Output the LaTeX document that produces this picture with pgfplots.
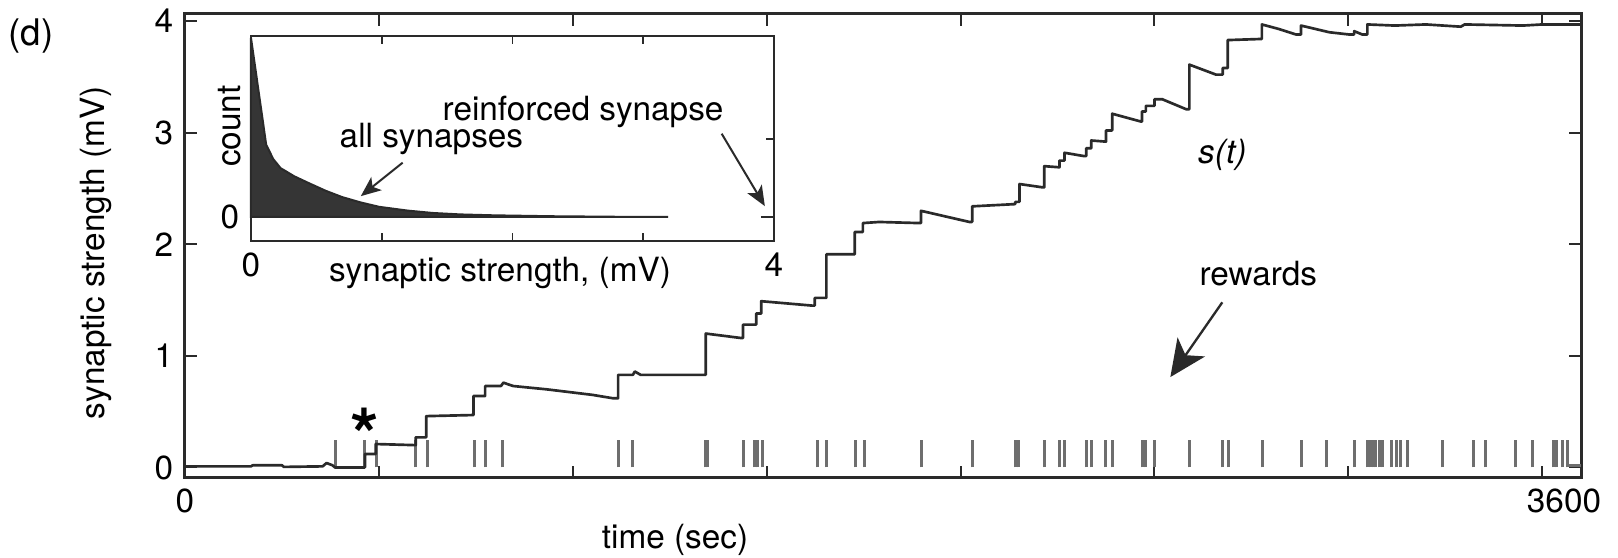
\documentclass[border=0pt]{standalone}
\usepackage{fontspec}
\setmainfont{TeX Gyre Heros}
\usepackage{pgfplots}
\pgfplotsset{compat=1.18}
\usetikzlibrary{arrows.meta}
\definecolor{ink}{HTML}{2A2A2A}
\definecolor{tickgray}{HTML}{6E6E6E}
\begin{document}
\begin{tikzpicture}[font=\fontsize{10}{12}\selectfont]
\useasboundingbox (0,0) rectangle (485.4pt,-167.1pt);
\node[anchor=west,inner sep=0pt] at (2.4pt,-10.8pt) {\fontsize{11}{13}\selectfont (d)};
% ---------------- main axis ----------------
\begin{axis}[
  at={(55.5pt,-143.25pt)}, anchor=south west,
  scale only axis, width=418.8pt, height=139.2pt,
  xmin=0, xmax=3600, ymin=-0.09, ymax=4.068,
  axis line style={ink, line width=0.9pt},
  tick style={ink, line width=0.6pt},
  tick align=inside, major tick length=3.6pt,
  xtick={0,500,1000,1500,2000,2500,3000,3500},
  xticklabels={0,,,,,,,},
  extra x ticks={3600}, extra x tick labels={\makebox[0pt]{\hspace*{-10.2pt}3600}},
  extra x tick style={major tick length=0pt},
  ytick={0,1,2,3,4},
  /pgf/number format/assume math mode=true,
  ticklabel style={font=\fontsize{10}{12}\selectfont},
  xlabel={time (sec)},
  ylabel={synaptic strength (mV)},
  every axis x label/.style={at={(axis description cs:0.351,-0.1347)}, anchor=center},
  every axis y label/.style={at={(axis description cs:-0.0638,0.484)}, rotate=90, anchor=center},
  clip=false,
]
% reward times
\addplot[ycomb, tickgray, line width=0.9pt, mark=none] coordinates {
(387,0.25) (464,0.25) (494,0.25) (595,0.25) (625,0.25) (746,0.25) (776,0.25) (819,0.25)
(1119,0.25) (1155,0.25) (1341,0.25) (1347,0.25) (1439,0.25) (1468,0.25) (1476,0.25) (1490,0.25)
(1630,0.25) (1654,0.25) (1728,0.25) (1751,0.25) (1898,0.25) (2030,0.25) (2142,0.25) (2150,0.25)
(2216,0.25) (2255,0.25) (2268,0.25) (2324,0.25) (2337,0.25) (2375,0.25) (2391,0.25)
(2470,0.25) (2478,0.25) (2500,0.25) (2590,0.25) (2676,0.25) (2690,0.25) (2779,0.25)
(2878,0.25) (2944,0.25) (3015,0.25) (3049,0.25) (3058,0.25) (3064,0.25) (3071,0.25) (3080,0.25)
(3088,0.25) (3111,0.25) (3125,0.25) (3134,0.25) (3153,0.25) (3243,0.25) (3324,0.25) (3354,0.25)
(3432,0.25) (3475,0.25) (3529,0.25) (3537,0.25) (3552,0.25) (3565,0.25)
};
\addplot[tickgray, line width=0.9pt, mark=none] coordinates {(3565,0.02) (3600,0.02)};
% synaptic strength s(t)
\addplot[ink, line width=0.8pt, mark=none, line join=round] coordinates {
(0,0.01) (170,0.01) (175,0.02) (250,0.02) (255,0.005) (355,0.01) (365,0.04) (380,0.02) (387,0.0)
(464,0.0) (464,0.12) (492,0.12) (492,0.21) (595,0.20) (595,0.27) (622,0.27) (622,0.46)
(744,0.47) (744,0.64) (774,0.64) (774,0.73) (815,0.73) (821,0.76) (846,0.73) (933,0.70)
(1052,0.65) (1104,0.62) (1117,0.62) (1117,0.83) (1155,0.83) (1160,0.86) (1175,0.83)
(1343,0.83) (1343,1.20) (1434,1.16) (1439,1.16) (1439,1.28) (1473,1.28) (1473,1.38)
(1486,1.38) (1486,1.49) (1619,1.45) (1624,1.45) (1624,1.52) (1654,1.52) (1654,1.91)
(1727,1.91) (1727,2.11) (1748,2.11) (1748,2.19) (1790,2.20) (1894,2.19) (1898,2.19)
(1898,2.30) (2023,2.20) (2030,2.20) (2030,2.34) (2141,2.36) (2141,2.38) (2152,2.38)
(2152,2.54) (2212,2.51) (2216,2.51) (2216,2.70) (2255,2.69) (2255,2.75) (2268,2.75)
(2268,2.82) (2319,2.79) (2324,2.79) (2324,2.86) (2337,2.86) (2337,2.93) (2375,2.92)
(2375,3.02) (2391,3.02) (2391,3.17) (2465,3.10) (2468,3.10) (2468,3.19) (2478,3.19)
(2478,3.24) (2500,3.24) (2500,3.30) (2520,3.30) (2582,3.21) (2590,3.21) (2590,3.61)
(2659,3.52) (2676,3.52) (2676,3.58) (2689,3.58) (2689,3.83) (2777,3.84) (2777,3.97)
(2820,3.93) (2865,3.88) (2878,3.88) (2878,3.96) (2951,3.90) (3002,3.88) (3015,3.88)
(3015,3.91) (3036,3.88) (3049,3.88) (3049,3.97) (3120,3.96) (3200,3.97) (3290,3.95)
(3300,3.97) (3450,3.96) (3500,3.97) (3600,3.97)
};
\node at (axis cs:2675,2.80) {\textit{s(t)}};
\node at (axis cs:2768,1.74) {rewards};
\draw[ink, line width=0.7pt, -{Stealth[length=11pt,width=10pt,inset=3pt]}] (axis cs:2675,1.48) -- (axis cs:2541,0.81);
\node at (axis cs:464,0.29) {\fontsize{22}{22}\selectfont\bfseries *};
\end{axis}
% ---------------- inset ----------------
\begin{axis}[
  at={(75.3pt,-72.3pt)}, anchor=south west,
  scale only axis, width=156.9pt, height=61.5pt,
  xmin=0, xmax=4, ymin=-0.133, ymax=1.0,
  axis background/.style={fill=white},
  axis line style={ink, line width=0.8pt},
  tick style={ink, line width=0.5pt},
  tick align=inside, major tick length=2.5pt,
  xtick={0,1,2,3,4}, xticklabels={0,,,,4},
  ytick={0,0.43}, yticklabels={0,},
  /pgf/number format/assume math mode=true,
  ticklabel style={font=\fontsize{10}{12}\selectfont},
  xlabel={synaptic strength, (mV)},
  ylabel={count},
  every axis x label/.style={at={(axis description cs:0.476,-0.155)}, anchor=center},
  every axis y label/.style={at={(axis description cs:-0.040,0.56)}, rotate=90, anchor=center},
  clip=false,
]
\addplot[draw=ink, fill=ink!95, line width=0.6pt, mark=none] coordinates {
(0,0.99) (0.116,0.40) (0.17,0.32) (0.226,0.27) (0.33,0.225) (0.445,0.186) (0.57,0.145)
(0.696,0.11) (0.84,0.08) (0.98,0.056) (1.2,0.035) (1.39,0.022) (1.6,0.014) (1.86,0.009)
(2.3,0.004) (2.8,0.001) (3.19,0)
} \closedcycle;
\addplot[ink, line width=0.8pt, mark=none] coordinates {(3.9,0) (4,0)};
\node at (axis cs:2.54,0.58) {reinforced synapse};
\draw[ink, line width=0.6pt, -{Stealth[length=6pt,width=5pt,inset=1.5pt]}] (axis cs:3.60,0.46) -- (axis cs:3.93,0.06);
\node at (axis cs:1.38,0.43) {all synapses};
\draw[ink, line width=0.6pt, -{Stealth[length=6pt,width=5pt,inset=1.5pt]}] (axis cs:1.16,0.30) -- (axis cs:0.84,0.115);
\end{axis}
\end{tikzpicture}
\end{document}
